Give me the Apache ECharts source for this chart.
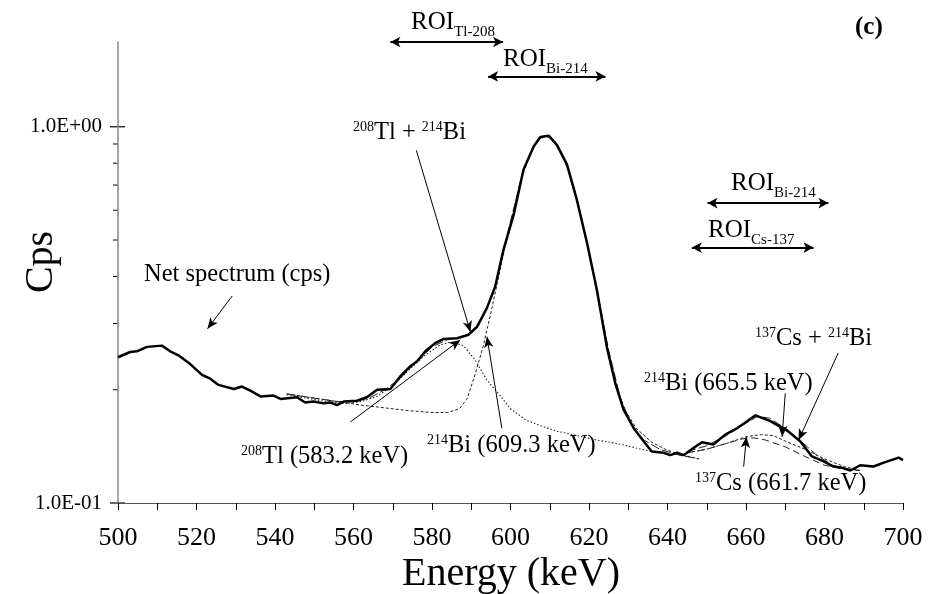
<!DOCTYPE html>
<html>
<head>
<meta charset="utf-8">
<script src="https://cdn.jsdelivr.net/npm/echarts@6/dist/echarts.min.js"></script>
<style>
  html, body { margin: 0; padding: 0; background: #fff; }
  #chart { width: 928px; height: 594px; }
</style>
</head>
<body>
<div id="chart"></div>
<script>
const FONT = 'Liberation Serif';

// net spectrum (cps)
const energy = [500, 503.1, 504.8, 507.4, 511.2, 513.3, 515.4, 518.4, 521.4, 523.5, 525.6, 529.5, 531.6, 533.7, 536.3, 539.6, 541.4, 545.6, 547.7, 549.8,
    552.4, 554.1, 555.8, 557.5, 560.9, 563.4, 566, 569.4, 571.9, 574.5, 576.2, 578.3, 580.8, 583, 586.4, 589.3, 591.5, 594, 596.1, 598.2,
    600.8, 603.3, 605.9, 607.6, 609.7, 611.8, 614.4, 616.9, 619.5, 622, 624.6, 626.7, 628.8, 631.4, 633.9, 636, 639, 640.7, 642.4, 644.1,
    646.6, 648.8, 651.7, 654.7, 657.7, 660.3, 662.4, 666.2, 670.4, 673.8, 676.8, 679.8, 682.3, 684.5, 686.6, 689.1, 692.5, 695.1, 698.9, 700];
const netCps = [0.244, 0.252, 0.253, 0.260, 0.262, 0.253, 0.247, 0.234, 0.219, 0.214, 0.206, 0.201, 0.204, 0.199, 0.192, 0.193, 0.189, 0.191, 0.185, 0.186,
    0.184, 0.185, 0.182, 0.186, 0.187, 0.191, 0.200, 0.201, 0.217, 0.231, 0.238, 0.253, 0.266, 0.273, 0.274, 0.280, 0.294, 0.330, 0.376, 0.471,
    0.583, 0.769, 0.886, 0.939, 0.947, 0.895, 0.793, 0.640, 0.491, 0.369, 0.258, 0.208, 0.177, 0.158, 0.146, 0.137, 0.136, 0.134, 0.136, 0.134,
    0.140, 0.145, 0.143, 0.152, 0.158, 0.165, 0.171, 0.165, 0.156, 0.146, 0.133, 0.129, 0.125, 0.124, 0.122, 0.126, 0.125, 0.128, 0.132, 0.130];

// fit of the 583/609 region
const fit1E = [543, 550, 556, 560, 564, 568, 572, 576, 580, 584, 588, 590, 592, 594, 596, 598, 600, 603, 606, 608, 610, 612, 614, 617, 620, 622, 625, 628, 631, 634, 638, 643, 648];
const fit1Cps = [0.195, 0.190, 0.186, 0.186, 0.190, 0.200, 0.215, 0.237, 0.260, 0.272, 0.277, 0.285, 0.303, 0.330, 0.375, 0.460, 0.560, 0.750, 0.890, 0.940, 0.948, 0.895, 0.810, 0.640, 0.465, 0.370, 0.255, 0.190, 0.160, 0.147, 0.139, 0.134, 0.131];
const tlE = [543, 548, 553, 558, 562, 566, 570, 574, 578, 582, 585, 588, 591, 594, 597, 600, 604, 608, 612, 617, 622, 627, 632, 636];
const tlCps = [0.194, 0.190, 0.186, 0.184, 0.186, 0.192, 0.205, 0.225, 0.246, 0.263, 0.268, 0.262, 0.240, 0.212, 0.195, 0.178, 0.166, 0.160, 0.155, 0.151, 0.147, 0.144, 0.140, 0.137];
const bi609E = [543, 550, 556, 562, 568, 574, 580, 584, 587, 589, 591, 593, 595, 597, 599, 601, 603, 605, 607, 609, 611, 613, 615, 617, 619, 621, 623, 625, 627, 629, 632, 636, 640, 644, 648];
const bi609Cps = [0.195, 0.190, 0.186, 0.182, 0.179, 0.176, 0.174, 0.174, 0.178, 0.190, 0.220, 0.260, 0.320, 0.400, 0.500, 0.610, 0.740, 0.850, 0.920, 0.945, 0.925, 0.850, 0.750, 0.630, 0.520, 0.410, 0.320, 0.250, 0.205, 0.178, 0.158, 0.145, 0.138, 0.134, 0.131];

// fit of the 661/665 region
const fit2E = [645, 650, 655, 660, 663, 666, 670, 674, 678, 682, 686, 689];
const fit2Cps = [0.137, 0.142, 0.151, 0.163, 0.170, 0.168, 0.158, 0.146, 0.134, 0.126, 0.123, 0.122];
const csE = [645, 650, 655, 659, 662, 665, 670, 675, 680, 685, 689];
const csCps = [0.136, 0.139, 0.144, 0.148, 0.149, 0.147, 0.141, 0.133, 0.126, 0.123, 0.122];
const bi665E = [645, 650, 655, 660, 664, 667, 670, 675, 680, 685, 689];
const bi665Cps = [0.136, 0.139, 0.144, 0.150, 0.152, 0.151, 0.146, 0.139, 0.131, 0.125, 0.122];

// ROI arrows: [from E, to E, level cps]
const roiTl208 = [569.4, 598.1, 1.68];
const roiBi214Top = [594.3, 624.2, 1.361];
const roiBi214 = [650.2, 681.0, 0.627];
const roiCs137 = [646.2, 677.2, 0.4775];

// pointer arrows: [E tail, cps tail, E head, cps head]
const ptrNet = [529.1, 0.355, 522.8, 0.2904];
const ptrTlBi = [576.0, 0.866, 589.8, 0.2848];
const ptrTl583 = [559.2, 0.1642, 587.2, 0.2713];
const ptrBi609 = [597.8, 0.158, 594.0, 0.2768];
const ptrBi665 = [670.0, 0.1957, 669.2, 0.150];
const ptrCsBi = [683.5, 0.2506, 673.4, 0.147];
const ptrCs661 = [659.4, 0.1249, 660.1, 0.150];

const yMinorTicks = [0.2, 0.3, 0.4, 0.5, 0.6, 0.7, 0.8, 0.9];
const yMajorTicks = [0.1, 1];

const pairs = (xs, ys) => xs.map((x, i) => [x, ys[i]]);

function pointer(p) {
    return [
        { coord: [p[0], p[1]], symbol: 'none' },
        { coord: [p[2], p[3]], symbol: 'arrow', symbolSize: [7, 11] }
    ];
}
function roi(r) {
    return [
        { coord: [r[0], r[2]], symbol: 'arrow', symbolSize: [8, 10], lineStyle: { width: 2 } },
        { coord: [r[1], r[2]], symbol: 'arrow', symbolSize: [8, 10] }
    ];
}

function fitLine(data, dash, width) {
    return {
        type: 'line',
        data: data,
        showSymbol: false,
        silent: true,
        lineStyle: { color: '#222', width: width || 1, type: dash }
    };
}

const chart = echarts.init(document.getElementById('chart'));

chart.setOption({
    animation: false,
    backgroundColor: '#fff',
    grid: { left: 118, right: 25, top: 42, bottom: 91 },
    xAxis: {
        type: 'value',
        min: 500,
        max: 700,
        interval: 20,
        axisLine: { lineStyle: { color: '#555', width: 1.2 } },
        axisTick: { length: 7, lineStyle: { color: '#000' } },
        minorTick: { show: true, splitNumber: 2, length: 7, lineStyle: { color: '#000' } },
        axisLabel: { color: '#000', fontFamily: FONT, fontSize: 26, margin: 22 },
        splitLine: { show: false }
    },
    yAxis: {
        type: 'log',
        logBase: 10,
        min: 0.1,
        max: 1.68,
        axisLine: { show: true, lineStyle: { color: '#888', width: 1.5 } },
        axisTick: { show: false },
        splitLine: { show: false },
        axisLabel: {
            color: '#000', fontFamily: FONT, fontSize: 21, margin: 16,
            showMaxLabel: false,
            formatter: function (v) {
                const e = Math.round(Math.log10(v));
                if (Math.abs(Math.log10(v) - e) > 1e-6) return '';
                return '1.0E' + (e < 0 ? '-' : '+') + String(Math.abs(e)).padStart(2, '0');
            }
        }
    },
    series: [
        fitLine(pairs(fit1E, fit1Cps), [9, 3], 1),
        fitLine(pairs(tlE, tlCps), [1.5, 2], 1.1),
        fitLine(pairs(bi609E, bi609Cps), [3, 2], 1),
        fitLine(pairs(fit2E, fit2Cps), [9, 3], 1),
        fitLine(pairs(csE, csCps), [7, 4], 1),
        fitLine(pairs(bi665E, bi665Cps), [3, 2], 1),
        {
            type: 'line',
            name: 'Net spectrum (cps)',
            data: pairs(energy, netCps),
            showSymbol: false,
            clip: false,
            z: 5,
            lineStyle: { color: '#000', width: 2.5 },
            markLine: {
                silent: true,
                animation: false,
                label: { show: false },
                lineStyle: { color: '#000', width: 1, type: 'solid' },
                emphasis: { disabled: true },
                data: [
                    pointer(ptrNet), pointer(ptrTlBi), pointer(ptrTl583), pointer(ptrBi609),
                    pointer(ptrBi665), pointer(ptrCsBi), pointer(ptrCs661),
                    roi(roiTl208), roi(roiBi214Top), roi(roiBi214), roi(roiCs137)
                ]
            }
        }
    ]
});

// text with super/subscripts
function rich(size) {
    return {
        m: { fontFamily: FONT, fontSize: size, lineHeight: 26, padding: [6, 0, 0, 0], verticalAlign: 'top', color: '#000' },
        p: { fontFamily: FONT, fontSize: 14, lineHeight: 14, padding: [6, 0, 0, 0], verticalAlign: 'top', color: '#000' },
        b: { fontFamily: FONT, fontSize: 15, lineHeight: 15, padding: [21, 0, 0, 0], verticalAlign: 'top', color: '#000' }
    };
}
function label(text, left, baseline, size) {
    return {
        type: 'text', x: left, y: baseline - 27, silent: true,
        style: { text: text, rich: rich(size || 24.5), align: 'left', verticalAlign: 'top' }
    };
}

const graphics = [
    label('{m|Net spectrum (cps)}', 144, 283),
    label('{p|208}{m|Tl + }{p|214}{m|Bi}', 353, 141),
    label('{p|208}{m|Tl (583.2 keV)}', 241, 465),
    label('{p|214}{m|Bi (609.3 keV)}', 427, 454),
    label('{p|214}{m|Bi (665.5 keV)}', 644, 392),
    label('{p|137}{m|Cs + }{p|214}{m|Bi}', 755, 347),
    label('{p|137}{m|Cs (661.7 keV)}', 695, 492),
    label('{m|ROI}{b|Tl-208}', 411, 31, 25),
    label('{m|ROI}{b|Bi-214}', 503, 68, 25),
    label('{m|ROI}{b|Bi-214}', 731, 192, 25),
    label('{m|ROI}{b|Cs-137}', 708, 239, 25),
    {
        type: 'text', x: 855, y: 15, silent: true,
        style: { text: '(c)', fontFamily: FONT, fontSize: 25, fontWeight: 'bold', fill: '#000' }
    },
    {
        type: 'text', x: 41, y: 262, rotation: Math.PI / 2, silent: true,
        style: { text: 'Cps', fontFamily: FONT, fontSize: 40, fill: '#000', align: 'center', verticalAlign: 'middle' }
    },
    {
        type: 'text', x: 511, y: 574, silent: true,
        style: { text: 'Energy (keV)', fontFamily: FONT, fontSize: 40, fill: '#000', align: 'center', verticalAlign: 'middle' }
    }
];

// log-axis ticks: minor ones at 0.2..0.9, major ones crossing the axis
const axisX = chart.convertToPixel({ xAxisIndex: 0 }, 500);
yMinorTicks.forEach(function (v) {
    const y = chart.convertToPixel({ yAxisIndex: 0 }, v);
    graphics.push({ type: 'line', silent: true, shape: { x1: axisX - 5, y1: y, x2: axisX, y2: y }, style: { stroke: '#000', lineWidth: 1 } });
});
yMajorTicks.forEach(function (v) {
    const y = chart.convertToPixel({ yAxisIndex: 0 }, v);
    graphics.push({ type: 'line', silent: true, shape: { x1: axisX - 8, y1: y, x2: axisX + 7, y2: y }, style: { stroke: '#000', lineWidth: 1.2 } });
});

chart.setOption({ graphic: graphics });
</script>
</body>
</html>
